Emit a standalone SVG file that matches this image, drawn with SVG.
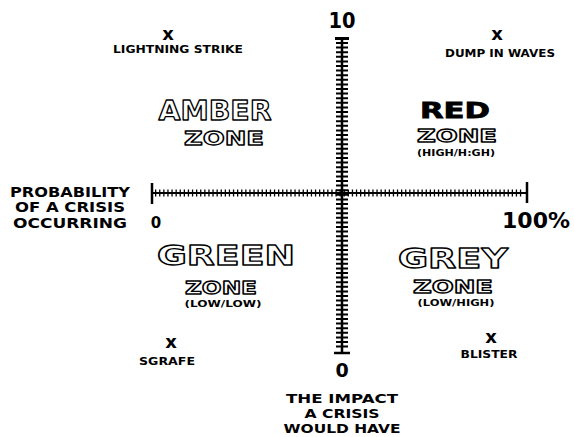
<svg xmlns="http://www.w3.org/2000/svg" width="574" height="437" viewBox="0 0 574 437">
<style>
text{font-family:"DejaVu Sans","Liberation Sans",sans-serif;font-weight:bold;fill:#000;text-anchor:middle}
.lbl{font-size:11px}
.mark{font-size:18px}
.axl{font-size:14px}
.bot{font-size:12.5px}
.out{fill:#fff;stroke:#000;stroke-width:1.3;stroke-linejoin:round}
.big{font-size:27px}
.zone{font-size:20px}
.zs{font-size:18px}
.sub{font-size:9px}
.ax{stroke:#000;fill:none}
</style>
<rect width="574" height="437" fill="#fff"/>
<g id="axes">
  <line class="ax" x1="342" y1="38" x2="342" y2="353" stroke-width="2.5"/>
  <line class="ax" x1="342" y1="42" x2="342" y2="350" stroke-width="12" stroke-dasharray="2 2.6"/>
  <line class="ax" x1="335" y1="38.5" x2="349" y2="38.5" stroke-width="3"/>
  <line class="ax" x1="334" y1="353" x2="350" y2="353" stroke-width="2.5"/>
  <line class="ax" x1="152" y1="193" x2="527" y2="193" stroke-width="2"/>
  <line class="ax" x1="155" y1="193" x2="524" y2="193" stroke-width="7" stroke-dasharray="1.3 2.8"/>
  <line class="ax" x1="152" y1="183" x2="152" y2="204" stroke-width="2.5"/>
  <line class="ax" x1="527" y1="182" x2="527" y2="203" stroke-width="2.5"/>
</g>
<g id="axis-labels">
  <text x="342" y="28" font-size="21" textLength="27" lengthAdjust="spacingAndGlyphs">10</text>
  <text x="342" y="377" font-size="19">0</text>
  <text x="156" y="228" font-size="15">0</text>
  <text x="536" y="228" font-size="22" textLength="68" lengthAdjust="spacingAndGlyphs">100%</text>
  <text class="axl" x="70" y="197" textLength="120" lengthAdjust="spacingAndGlyphs">PROBABILITY</text>
  <text class="axl" x="70" y="212" textLength="110" lengthAdjust="spacingAndGlyphs">OF A CRISIS</text>
  <text class="axl" x="70" y="228" textLength="114" lengthAdjust="spacingAndGlyphs">OCCURRING</text>
  <text class="bot" x="342" y="403" textLength="112" lengthAdjust="spacingAndGlyphs">THE IMPACT</text>
  <text class="bot" x="342" y="418" textLength="75" lengthAdjust="spacingAndGlyphs">A CRISIS</text>
  <text class="bot" x="342" y="433" textLength="117" lengthAdjust="spacingAndGlyphs">WOULD HAVE</text>
</g>
<g id="amber-zone">
  <text class="out big" x="215" y="120" textLength="113" lengthAdjust="spacingAndGlyphs">AMBER</text>
  <text class="out zone" x="224" y="145" textLength="80" lengthAdjust="spacingAndGlyphs">ZONE</text>
</g>
<g id="red-zone">
  <text x="455" y="118" font-size="22" font-weight="900" textLength="70" lengthAdjust="spacingAndGlyphs" stroke="#000" stroke-width="0.8">RED</text>
  <text class="out zs" x="457" y="142" textLength="80" lengthAdjust="spacingAndGlyphs">ZONE</text>
  <text class="sub" x="456" y="156" textLength="78" lengthAdjust="spacingAndGlyphs">(HIGH/H:GH)</text>
</g>
<g id="green-zone">
  <text class="out big" x="226" y="265" textLength="138" lengthAdjust="spacingAndGlyphs">GREEN</text>
  <text class="out zs" x="221" y="294" textLength="72" lengthAdjust="spacingAndGlyphs">ZONE</text>
  <text class="sub" x="223" y="307" textLength="77" lengthAdjust="spacingAndGlyphs">(LOW/LOW)</text>
</g>
<g id="grey-zone">
  <text class="out big" x="453" y="268" textLength="110" lengthAdjust="spacingAndGlyphs">GREY</text>
  <text class="out zs" x="453" y="293" textLength="80" lengthAdjust="spacingAndGlyphs">ZONE</text>
  <text class="sub" x="456" y="306" textLength="77" lengthAdjust="spacingAndGlyphs">(LOW/HIGH)</text>
</g>
<g id="lightning-strike">
  <text class="mark" x="168" y="40">x</text>
  <text class="lbl" x="178" y="53" textLength="130" lengthAdjust="spacingAndGlyphs">LIGHTNING STRIKE</text>
</g>
<g id="dump-in-waves">
  <text class="mark" x="497" y="40">x</text>
  <text class="lbl" x="500" y="57" textLength="110" lengthAdjust="spacingAndGlyphs">DUMP IN WAVES</text>
</g>
<g id="sgrafe">
  <text class="mark" x="171" y="348">x</text>
  <text class="lbl" x="167" y="365" textLength="56" lengthAdjust="spacingAndGlyphs">SGRAFE</text>
</g>
<g id="blister">
  <text class="mark" x="491" y="343">x</text>
  <text class="lbl" x="489" y="358" textLength="57" lengthAdjust="spacingAndGlyphs">BLISTER</text>
</g>
</svg>
